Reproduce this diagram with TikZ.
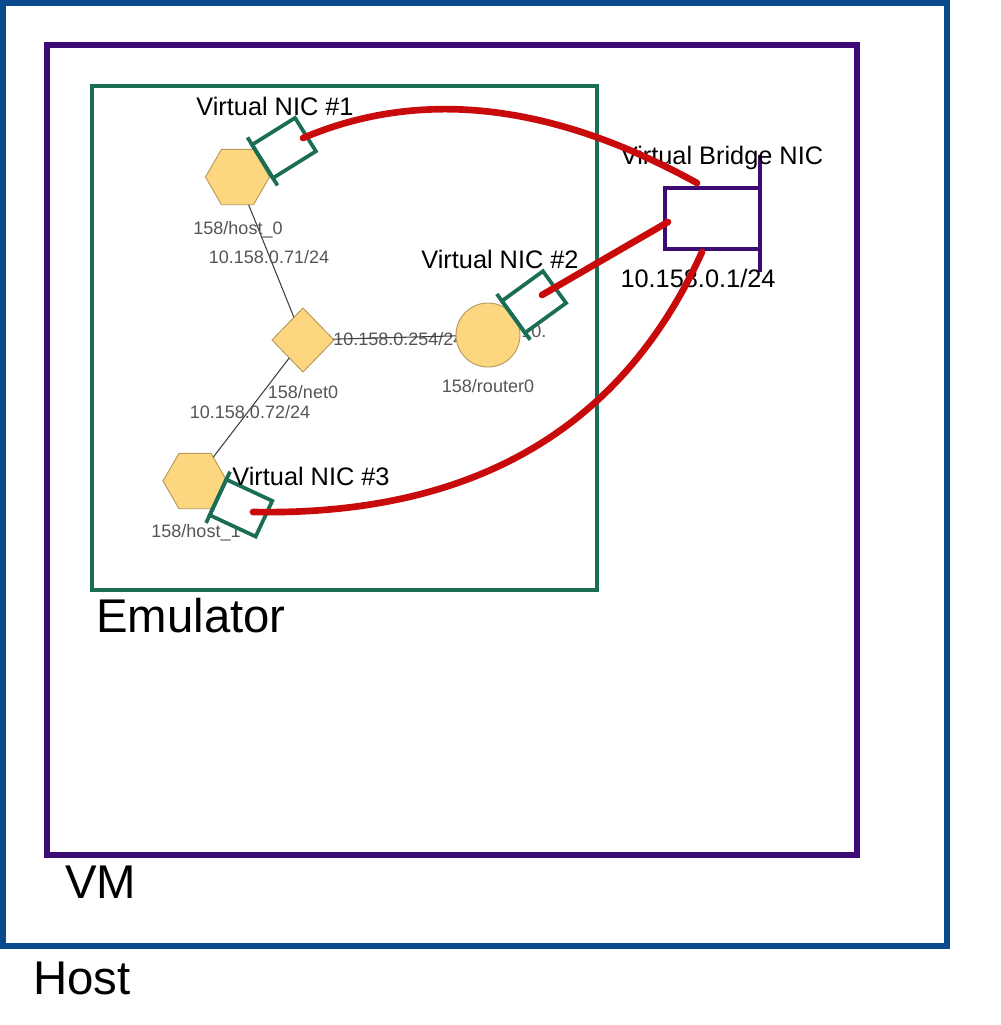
\documentclass[tikz,border=0pt]{standalone}
\usepackage{fontspec}
\setmainfont{Liberation Sans}
\usetikzlibrary{shapes.geometric,calc}
\definecolor{hostblue}{HTML}{0B4A8E}
\definecolor{vmpurple}{HTML}{3E0A73}
\definecolor{emugreen}{HTML}{1A6E55}
\definecolor{linkred}{HTML}{C80A0A}
\definecolor{nodefill}{HTML}{FCD77F}
\definecolor{nodeedge}{HTML}{B59A5C}
\definecolor{labelgray}{HTML}{555555}
\definecolor{netgray}{HTML}{404040}
\begin{document}
\begin{tikzpicture}[x=0.75pt,y=-0.75pt,
  hostbox/.style={draw=hostblue,line width=4pt},
  vmbox/.style={draw=vmpurple,line width=4pt},
  emubox/.style={draw=emugreen,line width=3.3pt},
  hexnode/.style={regular polygon,regular polygon sides=6,minimum size=48pt,inner sep=0pt,outer sep=0pt,fill=nodefill,draw=nodeedge,line width=0.7pt},
  dianode/.style={diamond,minimum width=46.5pt,minimum height=48pt,inner sep=0pt,outer sep=0pt,fill=nodefill,draw=nodeedge,line width=0.7pt},
  cirnode/.style={circle,minimum size=48pt,inner sep=0pt,outer sep=0pt,fill=nodefill,draw=nodeedge,line width=0.7pt},
  netlink/.style={draw=netgray,line width=0.8pt},
  graylbl/.style={font=\fontsize{13.5}{16}\selectfont,text=labelgray,inner sep=0pt,anchor=base},
  blacklbl/.style={font=\fontsize{19}{22}\selectfont,inner sep=0pt,anchor=base},
  biglbl/.style={font=\fontsize{35.5}{40}\selectfont,inner sep=0pt,anchor=base west},
  nicbox/.style={rectangle,draw=emugreen,line width=2.8pt,fill=white,minimum width=38pt,minimum height=29.5pt,inner sep=0pt,outer sep=0pt},
  nicbar/.style={draw=emugreen,line width=2.8pt},
  bridgebox/.style={rectangle,draw=vmpurple,line width=3.2pt,fill=white,minimum width=71.25pt,minimum height=45.75pt,inner sep=0pt,outer sep=0pt},
  redlink/.style={draw=linkred,line width=5pt,line cap=round}
]
\useasboundingbox (0,0) rectangle (1000,1025);
\fill[white] (0,0) rectangle (1000,1025);

% frames
\draw[hostbox] (3,3) rectangle (947,946);
\draw[vmbox] (47,45) rectangle (857,855);
\draw[emubox] (92,86) rectangle (597,590);

\node[biglbl] (hostlbl) at (33,994) {Host};
\node[biglbl] (vmlbl) at (65,898) {VM};
\node[biglbl] (emulbl) at (96,632) {Emulator};

% network nodes
\node[hexnode] (host0) at (237.5,177) {};
\node[dianode] (net0) at (303,340) {};
\node[hexnode] (host1) at (195,481) {};

\node[graylbl,anchor=base west] (ip254) at (333,345) {10.158.0.254/24};
\node[cirnode] (router0) at (488,335) {};
\node[graylbl,anchor=base west] (ipr) at (521,337) {10.};

\draw[netlink] (host0) -- (net0);
\draw[netlink] (net0) -- (host1);
\draw[netlink] (net0) -- (router0);

\node[graylbl] (lh0) at (238,234) {158/host\_0};
\node[graylbl] (ip71) at (269,263) {10.158.0.71/24};
\node[graylbl] (lnet) at (303,398) {158/net0};
\node[graylbl] (ip72) at (250,418) {10.158.0.72/24};
\node[graylbl] (lr0) at (488,392) {158/router0};
\node[graylbl] (lh1) at (196,537) {158/host\_1};

% virtual NICs
\node[nicbox,rotate=32] (nic1) at (284,148) {};
\draw[nicbar] ($(nic1.north west)!-0.22!(nic1.south west)$) -- ($(nic1.south west)!-0.22!(nic1.north west)$);
\node[nicbox,rotate=36] (nic2) at (534,302) {};
\draw[nicbar] ($(nic2.north west)!-0.22!(nic2.south west)$) -- ($(nic2.south west)!-0.22!(nic2.north west)$);
\node[nicbox,rotate=-25] (nic3) at (241,508) {};
\draw[nicbar] ($(nic3.north west)!-0.22!(nic3.south west)$) -- ($(nic3.south west)!-0.22!(nic3.north west)$);

\node[blacklbl] (nic1lbl) at (275,115) {Virtual NIC \#1};
\node[blacklbl] (nic2lbl) at (500,268) {Virtual NIC \#2};
\node[blacklbl] (nic3lbl) at (311,485) {Virtual NIC \#3};

% bridge
\node[bridgebox] (bridge) at (712.5,218.5) {};
\draw[draw=vmpurple,line width=3.2pt] ($(bridge.north east)+(0,-33)$) -- ($(bridge.south east)+(0,23)$);
\node[blacklbl] (bridgelbl) at (722,164) {Virtual Bridge NIC};
\node[blacklbl] (bridgeip) at (698,287) {10.158.0.1/24};

% red links
\coordinate (r1s) at (303,138);
\coordinate (r1e) at (697,183);
\coordinate (r2s) at (542,295);
\coordinate (r2e) at (668,222);
\coordinate (r3s) at (253,512);
\coordinate (r3e) at (702,252);
\draw[redlink] (r1s) .. controls (421,88) and (552,103) .. (r1e);
\draw[redlink] (r2s) -- (r2e);
\draw[redlink] (r3s) .. controls (473,516) and (622,429) .. (r3e);
\end{tikzpicture}
\end{document}
